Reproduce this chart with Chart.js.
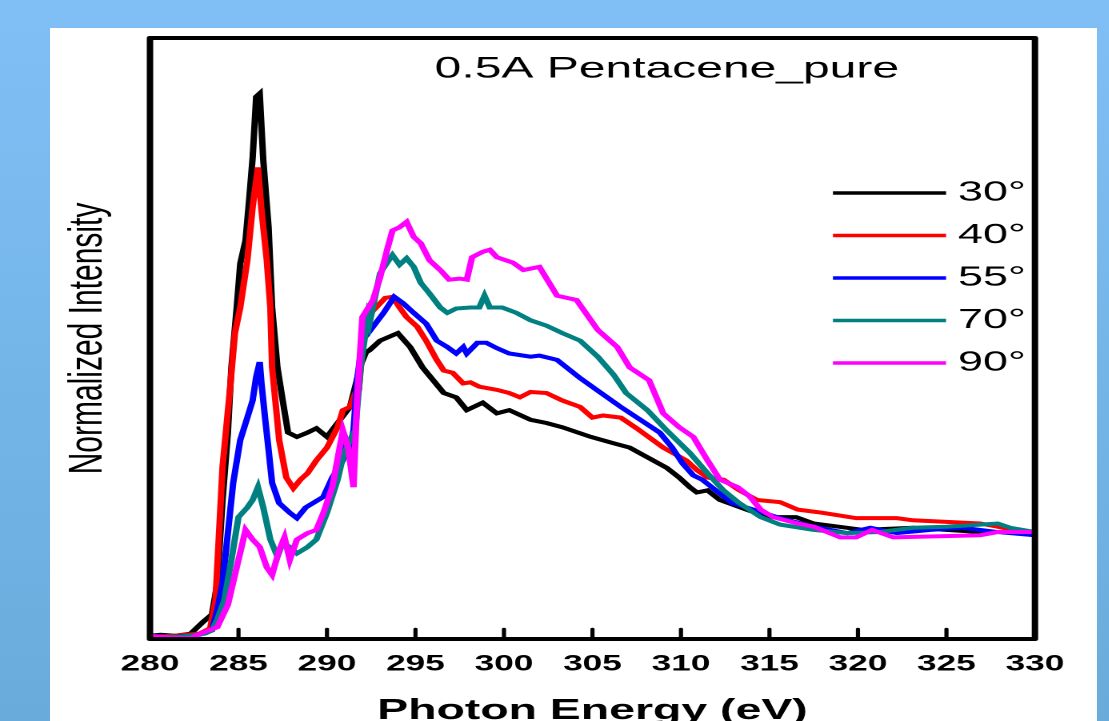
<!DOCTYPE html>
<html>
<head>
<meta charset="utf-8">
<title>0.5A Pentacene_pure</title>
<script src="https://cdn.jsdelivr.net/npm/chart.js"></script>
<style>
  html, body { margin: 0; padding: 0; width: 1109px; height: 721px; overflow: hidden; }
  body { position: relative; background: linear-gradient(to bottom, #80bff6 0%, #69acdb 100%); }
  #panel { position: absolute; left: 50px; top: 28px; width: 1047px; height: 700px; background: #fff; }
  /* the figure is drawn narrow and stretched sideways */
  #wrap { position: absolute; left: 0; top: 0; width: 693.125px; height: 721px; transform: scaleX(1.6); transform-origin: 0 0; }
</style>
</head>
<body>
<div id="panel"></div>
<div id="wrap"><canvas id="nexafs"></canvas></div>
<script>
// NEXAFS C K-edge spectra, photon energy (eV) vs normalized intensity
const angles = ['30°', '40°', '55°', '70°', '90°'];

const energy30 = [280.0, 280.6, 281.4, 282.3, 283.0, 283.5, 283.8, 284.1, 284.4, 284.6, 284.9, 285.1, 285.4, 285.6, 285.8, 286.0, 286.2, 286.4, 286.7, 286.9, 287.2, 287.5, 287.8, 288.3, 288.9, 289.4, 290.0, 290.6, 291.3, 291.9, 292.2, 292.4, 293.0, 294.0, 294.7, 295.4, 296.6, 297.3, 297.9, 298.8, 299.6, 300.3, 301.5, 302.4, 303.3, 304.9, 306.2, 307.1, 308.1, 309.2, 309.9, 310.5, 310.9, 311.5, 312.2, 313.7, 314.9, 316.5, 317.5, 320.3, 323.1, 325.0, 326.9, 328.8, 330.0];
const intensity30 = [0.03, 0.04, 0.03, 0.05, 0.16, 0.23, 0.52, 1.30, 1.93, 2.54, 3.10, 3.51, 3.73, 4.10, 4.50, 5.07, 5.10, 4.48, 3.85, 3.10, 2.54, 2.23, 1.93, 1.89, 1.93, 1.97, 1.89, 2.02, 2.17, 2.56, 2.68, 2.70, 2.79, 2.86, 2.73, 2.54, 2.30, 2.26, 2.14, 2.21, 2.11, 2.14, 2.05, 2.02, 1.98, 1.89, 1.83, 1.79, 1.70, 1.60, 1.51, 1.42, 1.37, 1.39, 1.30, 1.21, 1.14, 1.14, 1.08, 1.02, 1.04, 1.02, 1.00, 1.00, 0.99];

const energy40 = [280.0, 281.4, 282.8, 283.4, 283.7, 283.8, 284.1, 284.5, 284.8, 285.1, 285.5, 285.8, 286.1, 286.3, 286.6, 286.8, 286.9, 287.3, 287.7, 288.1, 288.5, 288.9, 289.4, 290.0, 290.6, 290.9, 291.3, 291.6, 291.8, 292.0, 292.2, 292.6, 293.3, 293.7, 294.1, 294.5, 295.1, 295.6, 296.2, 296.6, 297.1, 297.7, 298.1, 298.6, 299.6, 300.3, 300.9, 301.5, 302.4, 303.3, 304.3, 305.0, 305.6, 306.6, 307.5, 309.0, 310.3, 310.9, 311.5, 312.4, 313.3, 314.3, 315.6, 316.6, 318.0, 319.9, 322.2, 323.1, 326.9, 327.9, 328.8, 330.0];
const intensity40 = [0.02, 0.03, 0.05, 0.10, 0.36, 0.67, 1.61, 2.30, 2.86, 3.10, 3.54, 4.04, 4.41, 4.01, 3.54, 3.10, 2.54, 1.86, 1.51, 1.41, 1.49, 1.55, 1.67, 1.79, 1.98, 2.14, 2.17, 2.30, 2.33, 2.70, 2.98, 3.07, 3.19, 3.20, 3.10, 3.01, 2.92, 2.79, 2.61, 2.51, 2.49, 2.39, 2.40, 2.36, 2.33, 2.30, 2.26, 2.31, 2.30, 2.23, 2.17, 2.07, 2.09, 2.07, 1.97, 1.79, 1.67, 1.58, 1.51, 1.49, 1.39, 1.30, 1.28, 1.21, 1.18, 1.13, 1.13, 1.11, 1.08, 1.05, 1.02, 1.00];

const energy55 = [280.0, 281.4, 282.8, 283.5, 283.8, 284.1, 284.4, 284.7, 285.1, 285.5, 285.8, 286.0, 286.2, 286.3, 286.5, 286.7, 286.9, 287.3, 287.9, 288.3, 288.8, 289.2, 289.8, 290.3, 290.9, 291.1, 291.3, 291.5, 291.7, 292.0, 292.6, 293.2, 293.8, 294.3, 294.9, 295.6, 296.2, 296.8, 297.3, 297.7, 297.9, 298.5, 299.0, 299.6, 300.3, 301.5, 302.0, 303.0, 304.3, 305.4, 306.6, 307.7, 308.8, 309.5, 310.1, 310.7, 311.2, 312.2, 312.9, 314.1, 315.6, 317.5, 319.4, 320.7, 322.2, 324.1, 325.9, 327.9, 330.0];
const intensity55 = [0.02, 0.02, 0.04, 0.08, 0.27, 0.52, 0.99, 1.46, 1.86, 2.07, 2.23, 2.45, 2.59, 2.39, 2.07, 1.77, 1.46, 1.27, 1.18, 1.13, 1.23, 1.27, 1.33, 1.51, 1.67, 1.86, 1.79, 1.95, 2.42, 2.79, 2.92, 3.05, 3.20, 3.14, 3.05, 2.95, 2.79, 2.73, 2.67, 2.73, 2.67, 2.77, 2.77, 2.72, 2.67, 2.64, 2.65, 2.61, 2.44, 2.31, 2.17, 2.05, 1.93, 1.79, 1.64, 1.53, 1.49, 1.36, 1.27, 1.21, 1.13, 1.05, 0.99, 1.04, 0.99, 1.02, 1.04, 1.00, 0.97];

const energy70 = [280.0, 281.7, 283.1, 283.5, 283.8, 284.2, 284.6, 285.0, 285.5, 285.8, 286.1, 286.4, 286.8, 287.2, 287.5, 287.9, 288.3, 288.9, 289.4, 290.0, 290.6, 290.9, 291.3, 291.6, 291.9, 292.3, 292.4, 293.0, 293.4, 293.7, 294.1, 294.5, 294.9, 295.3, 295.8, 296.4, 296.8, 297.3, 298.1, 298.6, 298.9, 299.2, 299.9, 300.7, 301.5, 302.4, 303.3, 304.3, 305.3, 306.2, 306.9, 308.1, 309.2, 310.5, 311.5, 312.4, 313.3, 314.5, 315.6, 317.5, 319.4, 321.2, 323.1, 325.0, 327.9, 328.6, 330.0];
const intensity70 = [0.02, 0.02, 0.05, 0.08, 0.18, 0.36, 0.74, 1.14, 1.23, 1.30, 1.42, 1.23, 0.93, 0.77, 0.90, 0.86, 0.80, 0.86, 0.93, 1.18, 1.49, 1.70, 1.86, 1.95, 2.54, 3.01, 2.95, 3.42, 3.52, 3.59, 3.50, 3.56, 3.48, 3.33, 3.23, 3.10, 3.05, 3.09, 3.10, 3.10, 3.21, 3.10, 3.10, 3.05, 2.98, 2.93, 2.86, 2.79, 2.64, 2.47, 2.30, 2.14, 1.95, 1.74, 1.55, 1.39, 1.27, 1.14, 1.07, 1.02, 0.99, 1.00, 1.04, 1.05, 1.08, 1.04, 1.00];

const energy90 = [280.0, 281.4, 282.3, 283.0, 283.8, 284.4, 284.9, 285.4, 285.8, 286.2, 286.6, 286.9, 287.3, 287.6, 287.9, 288.3, 288.9, 289.4, 289.8, 290.3, 290.9, 291.2, 291.5, 291.7, 292.0, 292.6, 293.0, 293.4, 293.7, 294.1, 294.5, 294.9, 295.3, 295.8, 296.4, 296.9, 297.5, 297.9, 298.2, 298.8, 299.2, 299.6, 300.5, 301.1, 302.0, 303.0, 304.1, 305.3, 306.4, 307.1, 308.2, 309.0, 309.9, 310.7, 311.5, 312.2, 313.2, 313.9, 314.5, 315.2, 316.6, 317.5, 319.0, 319.9, 320.8, 322.0, 326.9, 327.9, 330.0];
const intensity90 = [0.03, 0.01, 0.01, 0.06, 0.11, 0.32, 0.67, 1.02, 0.93, 0.86, 0.67, 0.60, 0.83, 0.95, 0.74, 0.93, 0.99, 1.02, 1.18, 1.42, 1.95, 1.79, 1.42, 2.23, 3.01, 3.17, 3.38, 3.64, 3.82, 3.85, 3.90, 3.76, 3.70, 3.54, 3.45, 3.36, 3.37, 3.36, 3.57, 3.62, 3.64, 3.57, 3.52, 3.45, 3.48, 3.21, 3.17, 2.89, 2.73, 2.54, 2.42, 2.11, 1.98, 1.89, 1.67, 1.49, 1.42, 1.33, 1.21, 1.14, 1.08, 1.05, 0.95, 0.95, 1.02, 0.95, 0.97, 1.00, 1.00];

const energies = [energy30, energy40, energy55, energy70, energy90];
const intensities = [intensity30, intensity40, intensity55, intensity70, intensity90];
const colors = ['#000000', '#ff0000', '#0000ff', '#008080', '#ff00ff'];

const FONT = '"Liberation Sans", Arial, Helvetica, sans-serif';

// frame, inward ticks, plot title and legend
const framePlugin = {
  id: 'frame',
  afterDatasetsDraw(chart) {
    const { ctx, chartArea: a, scales: { x } } = chart;
    ctx.save();
    ctx.strokeStyle = '#000';
    ctx.lineWidth = 4;
    ctx.lineJoin = 'round';
    ctx.strokeRect(a.left, a.top, a.right - a.left, a.bottom - a.top);

    ctx.lineWidth = 2.6;
    ctx.lineCap = 'round';
    x.ticks.forEach(t => {
      if (t.value <= x.min || t.value >= x.max) return;
      const px = x.getPixelForValue(t.value);
      ctx.beginPath();
      ctx.moveTo(px, a.bottom);
      ctx.lineTo(px, a.bottom - 10);
      ctx.stroke();
    });

    ctx.fillStyle = '#000';
    ctx.textBaseline = 'middle';
    ctx.textAlign = 'center';
    ctx.font = '30px ' + FONT;
    ctx.fillText('0.5A Pentacene_pure', 416.8, 69);

    ctx.textAlign = 'left';
    ctx.font = '28px ' + FONT;
    ctx.lineCap = 'butt';
    ctx.lineWidth = 3.5;
    chart.data.datasets.forEach((ds, i) => {
      const y = 193 + i * 42.5;
      ctx.strokeStyle = ds.borderColor;
      ctx.beginPath();
      ctx.moveTo(520.6, y);
      ctx.lineTo(591.3, y);
      ctx.stroke();
      ctx.fillText(ds.label, 598.8, y);
    });
    ctx.restore();
  }
};

const datasets = angles.map((label, i) => ({
  label: label,
  data: energies[i].map((e, j) => ({ x: e, y: intensities[i][j] })),
  borderColor: colors[i],
  backgroundColor: colors[i],
  borderWidth: 4,
  pointRadius: 0,
  tension: 0,
  order: angles.length - 1 - i
}));

new Chart(document.getElementById('nexafs'), {
  type: 'line',
  data: { datasets: datasets },
  plugins: [framePlugin],
  options: {
    responsive: true,
    maintainAspectRatio: false,
    animation: false,
    devicePixelRatio: 2,
    layout: { padding: { top: 38, right: 46.25, bottom: 0, left: 0 } },
    plugins: {
      legend: { display: false },
      tooltip: { enabled: false }
    },
    scales: {
      x: {
        type: 'linear',
        min: 280,
        max: 330,
        grid: { display: false, drawTicks: false, tickLength: 0 },
        border: { display: false },
        ticks: {
          stepSize: 5,
          autoSkip: false,
          maxRotation: 0,
          padding: 12,
          color: '#000',
          font: { family: FONT, size: 22, weight: 'bold' }
        },
        title: {
          display: true,
          text: 'Photon Energy (eV)',
          color: '#000',
          padding: 0,
          font: { family: FONT, size: 29, weight: 'bold', lineHeight: '20px' }
        },
        afterFit(scale) { scale.height = 82; }
      },
      y: {
        type: 'linear',
        min: 0,
        max: 5.62,
        grid: { display: false, drawTicks: false },
        border: { display: false },
        ticks: { display: false },
        title: {
          display: true,
          text: 'Normalized Intensity',
          color: '#000',
          padding: { top: 37, bottom: 0 },
          font: { family: FONT, size: 30 }
        },
        afterFit(scale) { scale.width = 93.75; }
      }
    }
  }
});
</script>
</body>
</html>
